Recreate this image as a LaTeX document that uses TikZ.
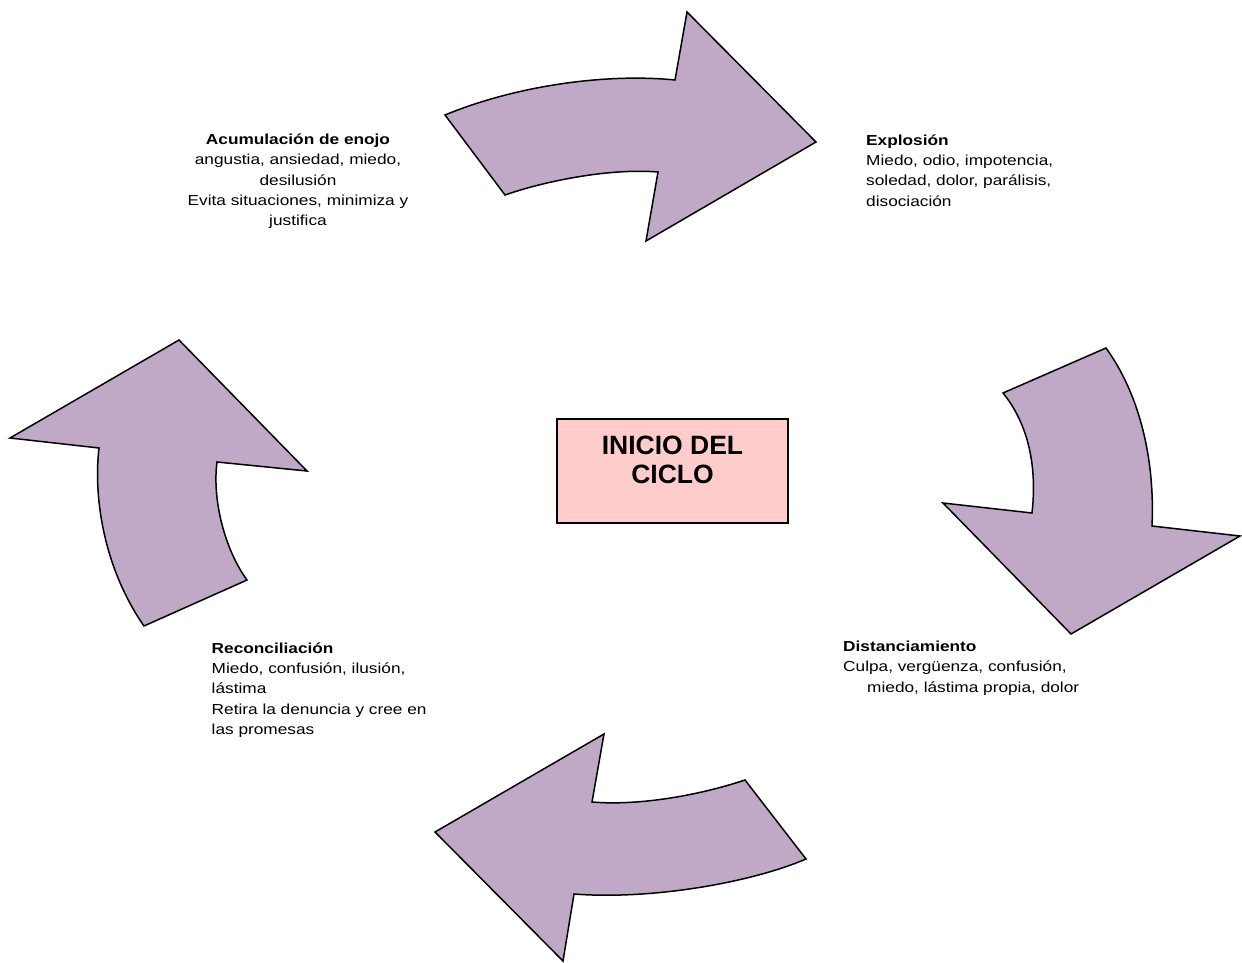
\documentclass[tikz,border=0pt]{standalone}
\usepackage{fontspec}
\setmainfont{Liberation Sans}
\newfontfamily\lblfont[FakeStretch=1.19]{Liberation Sans}
\definecolor{arrowfill}{RGB}{192,169,199}
\definecolor{boxfill}{RGB}{255,204,204}
\begin{document}
\begin{tikzpicture}[x=1pt,y=-1pt,
  cyclearrow/.style={draw=black,fill=arrowfill,line width=1.5pt,line join=miter},
  lbl/.style={inner sep=0pt,font=\lblfont\fontsize{14.5}{20.3}\selectfont},
  titlebox/.style={draw=black,fill=boxfill,line width=1.5pt,minimum width=231pt,minimum height=104pt,inner sep=0pt}]
\useasboundingbox (0,0) rectangle (1242,963);
% top arrow
\draw[cyclearrow] (445,115) .. controls (515,86) and (605,73) .. (675,80)
  -- (687,12) -- (816,142) -- (646,241) -- (658,172)
  .. controls (610,168) and (545,181) .. (505,195) -- cycle;
% right arrow
\draw[cyclearrow] (1003,393) -- (1106,348)
  .. controls (1140,395) and (1155,460) .. (1152,526)
  -- (1240,536) -- (1071,634) -- (943,503) -- (1032,513)
  .. controls (1038,460) and (1025,420) .. (1003,393) -- cycle;
% bottom arrow
\draw[cyclearrow] (745,780) -- (806,859)
  .. controls (750,883) and (650,900) .. (574,894)
  -- (563,961) -- (435,832) -- (604,734) -- (592,802)
  .. controls (640,806) and (700,795) .. (745,780) -- cycle;
% left arrow
\draw[cyclearrow] (144,626) -- (247,580)
  .. controls (225,550) and (212,500) .. (217,462)
  -- (307,471) -- (179,340) -- (10,438) -- (99,448)
  .. controls (93,500) and (105,570) .. (144,626) -- cycle;
% centre box
\node[titlebox] (inicio) at (672.5,471) {};
\node[inner sep=0pt,font=\fontsize{26.5}{29.5}\selectfont\bfseries,align=center,anchor=base] (iniciotxt) at (672.5,483.5) {INICIO DEL\\CICLO};
% labels (anchor = baseline of last line)
\node[lbl,align=center,anchor=base] (acum) at (298,225.7) {\textbf{Acumulación de enojo}\\angustia, ansiedad, miedo,\\desilusión\\Evita situaciones, minimiza y\\justifica};
\node[lbl,align=left,anchor=base west] (expl) at (866,206) {\textbf{Explosión}\\Miedo, odio, impotencia,\\soledad, dolor, parálisis,\\disociación};
\node[lbl,align=left,anchor=base west] (dist) at (843,692) {\textbf{Distanciamiento}\\Culpa, vergüenza, confusión,\\\hspace*{24pt}miedo, lástima propia, dolor};
\node[lbl,align=left,anchor=base west] (reco) at (211.5,734.5) {\textbf{Reconciliación}\\Miedo, confusión, ilusión,\\lástima\\Retira la denuncia y cree en\\las promesas};
\end{tikzpicture}
\end{document}
